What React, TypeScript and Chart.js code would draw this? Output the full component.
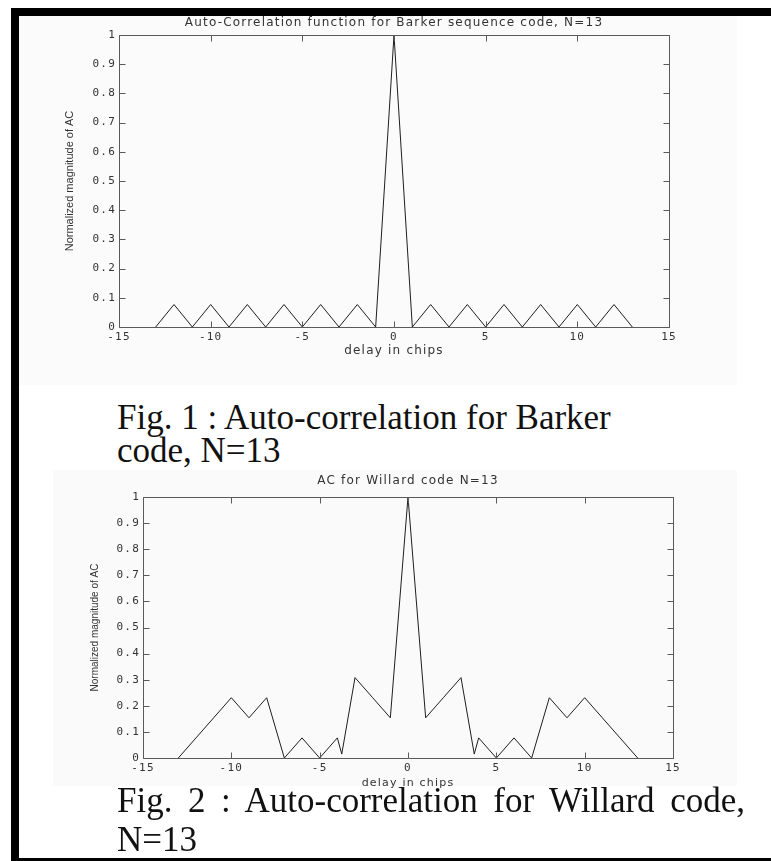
import React, { useEffect, useRef } from "react";
import { Chart, registerables } from "chart.js";

Chart.register(...registerables);

// ---------------- data ----------------
const xTickValues = [-15, -10, -5, 0, 5, 10, 15];
const yTickValues = [0, 0.1, 0.2, 0.3, 0.4, 0.5, 0.6, 0.7, 0.8, 0.9, 1];

const barkerLags = [-13, -12, -11, -10, -9, -8, -7, -6, -5, -4, -3, -2, -1, 0, 1, 2, 3, 4, 5, 6, 7, 8, 9, 10, 11, 12, 13];
const barkerAC = [0, 0.077, 0, 0.077, 0, 0.077, 0, 0.077, 0, 0.077, 0, 0.077, 0, 1, 0, 0.077, 0, 0.077, 0, 0.077, 0, 0.077, 0, 0.077, 0, 0.077, 0];

const willardLags = [-13, -12, -11, -10, -9, -8, -7, -6, -5, -4, -3.75, -3, -2, -1, 0, 1, 2, 3, 3.75, 4, 5, 6, 7, 8, 9, 10, 11, 12, 13];
const willardAC = [0, 0.077, 0.154, 0.231, 0.154, 0.231, 0, 0.077, 0, 0.077, 0.015, 0.308, 0.231, 0.154, 1, 0.154, 0.231, 0.308, 0.015, 0.077, 0, 0.077, 0, 0.231, 0.154, 0.231, 0.154, 0.077, 0];

const barkerTitle = "Auto-Correlation function for Barker sequence code, N=13";
const willardTitle = "AC for Willard code N=13";
const xAxisTitle = "delay in chips";
const yAxisTitle = "Normalized magnitude of AC";
const caption1 = ["Fig. 1 : Auto-correlation for Barker", "code, N=13"];
const caption2 = ["Fig. 2 : Auto-correlation for Willard code,", "N=13"];

// ---------------- chart helpers ----------------
const TEXT = "#333333";
const BOX = "#5a5a5a";

const frameTicks = {
  id: "frameTicks",
  beforeDraw(chart: any) {
    (chart.ctx as any).letterSpacing = "1.2px";
  },
  afterDraw(chart: any, _args: any, opts: any) {
    const ctx = chart.ctx as any;
    const { left, right, top, bottom } = chart.chartArea;
    const xs = chart.scales.x;
    const ys = chart.scales.y;
    const L = 6;
    const r = (v: number) => Math.round(v) + 0.5;
    ctx.save();
    ctx.letterSpacing = "0px";
    ctx.strokeStyle = BOX;
    ctx.lineWidth = 1;
    ctx.beginPath();
    ctx.moveTo(r(left), r(top));
    ctx.lineTo(r(right), r(top));
    ctx.lineTo(r(right), r(bottom));
    ctx.lineTo(r(left), r(bottom));
    ctx.closePath();
    xs.ticks.forEach((t: any) => {
      const px = r(xs.getPixelForValue(t.value));
      ctx.moveTo(px, r(bottom));
      ctx.lineTo(px, r(bottom) - L);
      ctx.moveTo(px, r(top));
      ctx.lineTo(px, r(top) + L);
    });
    ys.ticks.forEach((t: any) => {
      const py = r(ys.getPixelForValue(t.value));
      ctx.moveTo(r(left), py);
      ctx.lineTo(r(left) + L, py);
      ctx.moveTo(r(right), py);
      ctx.lineTo(r(right) - L, py);
    });
    ctx.stroke();
    // vertical axis title
    ctx.fillStyle = TEXT;
    ctx.font = `${opts.yTitleSize}px "Liberation Sans Narrow", "Liberation Sans", Arial, sans-serif`;
    ctx.textAlign = "center";
    ctx.textBaseline = "middle";
    ctx.translate(opts.yTitleX, (top + bottom) / 2);
    ctx.rotate(-Math.PI / 2);
    ctx.fillText(opts.yTitle, 0, 0);
    ctx.restore();
    ctx.letterSpacing = "0px";
  },
};

type PlotSpec = {
  left: number;
  top: number;
  width: number;
  height: number;
  lags: number[];
  values: number[];
  title: string;
  padRight: number;
  yAxisWidth: number;
  xAxisHeight: number;
  titlePadTop: number;
  titlePadBottom: number;
  xTickPad: number;
  xTitleSize: number;
  xTitlePadBottom: number;
  yTitleX: number;
  yTitleSize: number;
};

function buildConfig(p: PlotSpec): any {
  return {
    type: "line",
    data: {
      datasets: [
        {
          data: p.lags.map((x, i) => ({ x, y: p.values[i] })),
          borderColor: "#1e1e1e",
          borderWidth: 1,
          pointRadius: 0,
          tension: 0,
          fill: false,
        },
      ],
    },
    options: {
      animation: false,
      responsive: false,
      devicePixelRatio: 1,
      layout: { padding: { left: 0, top: 0, right: p.padRight, bottom: 0 } },
      plugins: {
        legend: { display: false },
        tooltip: { enabled: false },
        title: {
          display: true,
          fullSize: false,
          text: p.title,
          color: TEXT,
          font: { family: "DejaVu Sans", size: 12, weight: "normal", lineHeight: 1.2 },
          padding: { top: p.titlePadTop, bottom: p.titlePadBottom },
        },
        frameTicks: { yTitle: yAxisTitle, yTitleX: p.yTitleX, yTitleSize: p.yTitleSize },
      },
      scales: {
        x: {
          type: "linear",
          min: -15,
          max: 15,
          afterBuildTicks: (s: any) => {
            s.ticks = xTickValues.map((v) => ({ value: v }));
          },
          afterFit: (s: any) => {
            s.height = p.xAxisHeight;
          },
          grid: { display: false, drawTicks: false },
          border: { display: false },
          ticks: {
            color: TEXT,
            font: { family: "DejaVu Sans Mono", size: 11 },
            padding: p.xTickPad,
            maxRotation: 0,
            autoSkip: false,
            callback: (v: any) => String(v),
          },
          title: {
            display: true,
            text: xAxisTitle,
            color: TEXT,
            font: { family: "DejaVu Sans", size: p.xTitleSize, lineHeight: 1.2 },
            padding: { top: 0, bottom: p.xTitlePadBottom },
          },
        },
        y: {
          type: "linear",
          min: 0,
          max: 1,
          afterBuildTicks: (s: any) => {
            s.ticks = yTickValues.map((v) => ({ value: v }));
          },
          afterFit: (s: any) => {
            s.width = p.yAxisWidth;
          },
          grid: { display: false, drawTicks: false },
          border: { display: false },
          ticks: {
            color: TEXT,
            font: { family: "DejaVu Sans Mono", size: 11 },
            padding: 3,
            autoSkip: false,
            callback: (v: any) => (v === 0 ? "0" : v === 1 ? "1" : Number(v).toFixed(1)),
          },
        },
      },
    },
    plugins: [frameTicks],
  };
}

function Plot({ spec }: { spec: PlotSpec }) {
  const ref = useRef<HTMLCanvasElement>(null);
  useEffect(() => {
    const chart = new Chart(ref.current as HTMLCanvasElement, buildConfig(spec));
    return () => chart.destroy();
  }, []);
  return (
    <canvas
      ref={ref}
      width={spec.width}
      height={spec.height}
      style={{ position: "absolute", left: spec.left, top: spec.top, width: spec.width, height: spec.height }}
    />
  );
}

const barkerSpec: PlotSpec = {
  left: 19,
  top: 16,
  width: 718,
  height: 364,
  lags: barkerLags,
  values: barkerAC,
  title: barkerTitle,
  padRight: 68,
  yAxisWidth: 100,
  xAxisHeight: 53,
  titlePadTop: 0,
  titlePadBottom: 4.6,
  xTickPad: 4,
  xTitleSize: 12,
  xTitlePadBottom: 21.8,
  yTitleX: 51,
  yTitleSize: 11,
};

const willardSpec: PlotSpec = {
  left: 53,
  top: 470,
  width: 684,
  height: 320,
  lags: willardLags,
  values: willardAC,
  title: willardTitle,
  padRight: 64,
  yAxisWidth: 90,
  xAxisHeight: 32,
  titlePadTop: 3.8,
  titlePadBottom: 8.8,
  xTickPad: 4,
  xTitleSize: 11,
  xTitlePadBottom: 0.4,
  yTitleX: 42,
  yTitleSize: 10,
};

const serif = '"Liberation Serif", "Times New Roman", Times, serif';

export default function App() {
  return (
    <div
      style={{
        position: "absolute",
        left: 0,
        top: 0,
        width: 771,
        height: 861,
        background: "#ffffff",
        overflow: "hidden",
      }}
    >
      <div style={{ position: "absolute", left: 19, top: 16, width: 718, height: 369, background: "#fbfbfb" }} />
      <div style={{ position: "absolute", left: 53, top: 470, width: 684, height: 316, background: "#fafafa" }} />
      <Plot spec={barkerSpec} />
      <Plot spec={willardSpec} />
      <div
        style={{
          position: "absolute",
          left: 117,
          top: 401,
          fontFamily: serif,
          fontSize: 35,
          lineHeight: "33px",
          color: "#111",
          whiteSpace: "nowrap",
        }}
      >
        <div>{caption1[0]}</div>
        <div>{caption1[1]}</div>
      </div>
      <div
        style={{
          position: "absolute",
          left: 117,
          top: 781,
          width: 628,
          fontFamily: serif,
          fontSize: 35,
          lineHeight: "39px",
          color: "#111",
        }}
      >
        <div style={{ textAlign: "justify", textAlignLast: "justify" as any, whiteSpace: "nowrap" }}>{caption2[0]}</div>
        <div>{caption2[1]}</div>
      </div>
      <div style={{ position: "absolute", left: 11, top: 8, width: 760, height: 8, background: "#000" }} />
      <div style={{ position: "absolute", left: 11, top: 8, width: 8, height: 853, background: "#000" }} />
      <div style={{ position: "absolute", left: 11, top: 858, width: 760, height: 3, background: "#000" }} />
    </div>
  );
}
